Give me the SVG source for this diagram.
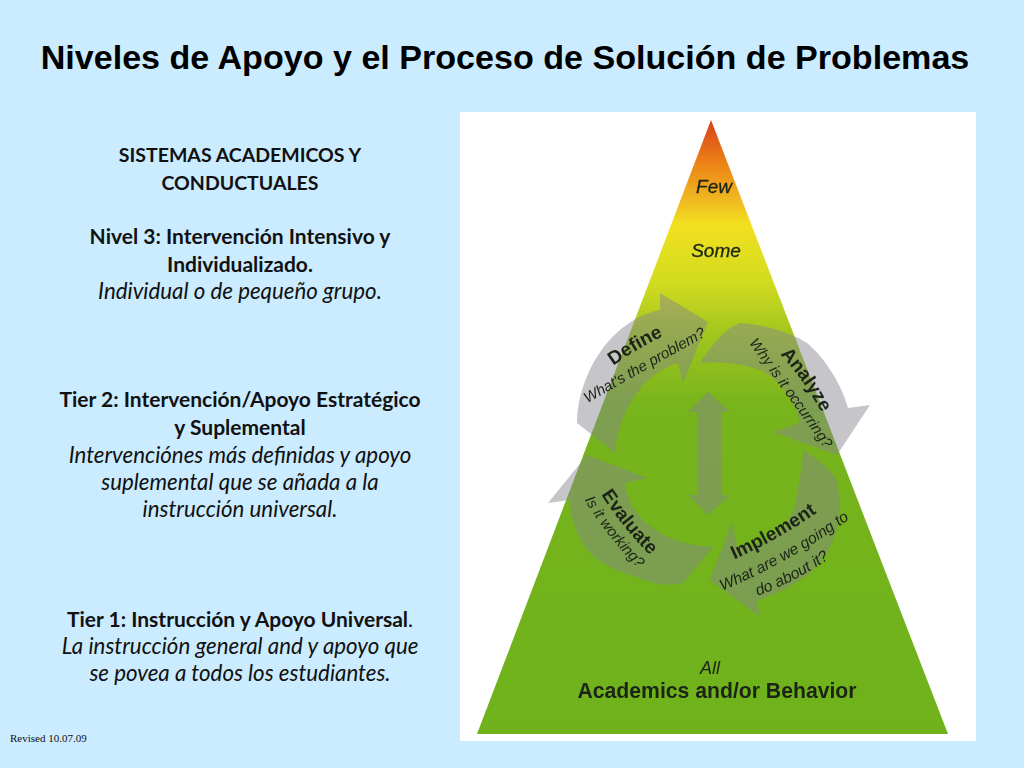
<svg xmlns="http://www.w3.org/2000/svg" width="1024" height="768" viewBox="0 0 1024 768">
<style>
.t{font-family:"Lato","Open Sans",sans-serif;font-size:21px;fill:#111;text-anchor:middle}
.c{font-size:19.5px}
.b{font-weight:bold}.i{font-style:italic;font-size:22.3px}
.a{font-family:"Liberation Sans",Arial,sans-serif;fill:#1c2418}
.m{text-anchor:middle}
.arrow{fill:#85858f;opacity:.47}
</style>
<defs>
<linearGradient id="py" gradientUnits="userSpaceOnUse" x1="0" y1="120" x2="0" y2="734">
<stop offset="0" stop-color="#d8401c"/><stop offset=".07" stop-color="#ec8216"/><stop offset=".13" stop-color="#f0b820"/><stop offset=".17" stop-color="#f2e020"/><stop offset=".26" stop-color="#d4dc20"/><stop offset=".34" stop-color="#a6c81e"/><stop offset=".46" stop-color="#78b41c"/><stop offset="1" stop-color="#6fb21c"/>
</linearGradient>
<filter id="soft"><feGaussianBlur stdDeviation=".6"/></filter>
<path id="p1" d="M613,366 Q636,349 664,336"/>
<path id="p2" d="M586,404 Q645,370 708,335"/>
<path id="p3" d="M781,355 Q804,380 821,412"/>
<path id="p4" d="M749,343 Q786,394 825,449"/>
<path id="p5" d="M733,560 Q778,540 818,512"/>
<path id="p6" d="M724,590 Q790,562 848,520"/>
<path id="p7" d="M757,596 Q795,582 830,558"/>
<path id="p8" d="M602,496 Q623,528 649,554"/>
<path id="p9" d="M584,499 Q607,537 639,569"/>
</defs>
<rect width="1024" height="768" fill="#cbebff"/>
<text id="title" x="505" y="69" text-anchor="middle" font-family="Liberation Sans, Arial, sans-serif" font-weight="bold" font-size="34.1" fill="#000">Niveles de Apoyo y el Proceso de Solución de Problemas</text>
<g id="left-text">
<text class="t b c" x="240" y="162">SISTEMAS ACADEMICOS Y</text>
<text class="t b c" x="240" y="190">CONDUCTUALES</text>
<text class="t b" x="240" y="244">Nivel 3: Intervención Intensivo y</text>
<text class="t b" x="240" y="272">Individualizado.</text>
<text class="t i" x="240" y="299">Individual o de pequeño grupo.</text>
<text class="t b" x="240" y="407">Tier 2: Intervención/Apoyo Estratégico</text>
<text class="t b" x="240" y="435">y Suplemental</text>
<text class="t i" x="240" y="463">Intervenciónes más definidas y apoyo</text>
<text class="t i" x="240" y="490">suplemental que se añada a la</text>
<text class="t i" x="240" y="517">instrucción universal.</text>
<text class="t" x="240" y="627"><tspan class="b">Tier 1: Instrucción y Apoyo Universal</tspan>.</text>
<text class="t i" x="240" y="654">La instrucción general and y apoyo que</text>
<text class="t i" x="240" y="681">se povea a todos los estudiantes.</text>
</g>
<text id="revised" x="10" y="742" font-family="Liberation Serif, Times New Roman, serif" font-size="11" fill="#111">Revised 10.07.09</text>
<rect id="panel" x="460" y="112" width="516" height="629" fill="#fff"/>
<g id="pyramid"><polygon points="711,120 948,734 477,734" fill="url(#py)"/></g>
<g id="arrows" filter="url(#soft)">
<path id="define" class="arrow" d="M577,423 C578,375 610,320 660,310 L660,293 L708,322 L683,383 L678,363 C645,372 618,410 615,453 Z"/>
<path id="analyze" class="arrow" d="M700,363 C712,345 725,328 740,323 C770,325 795,335 807,343 C825,358 842,385 848,408 L870,405 L837,455 L773,432 L800,423 C795,400 775,372 753,368 C735,362 715,362 700,363 Z"/>
<path id="implement" class="arrow" d="M803,450 C820,460 838,475 838,487 C842,515 838,530 833,540 C825,560 810,575 800,580 C785,590 770,597 757,600 L760,617 L710,580 L732,522 L737,547 C760,548 795,530 797,493 C800,475 803,465 803,450 Z"/>
<path id="evaluate" class="arrow" d="M587,455 L647,478 L625,483 C628,515 660,545 713,547 L683,583 C665,587 650,583 637,577 C610,570 588,555 583,543 C575,530 570,515 570,500 L548,503 Z"/>
<polygon id="updown" class="arrow" points="708,392 730,412 722,412 722,495 730,495 708,515 688,495 697,495 697,412 688,412"/>
</g>
<g id="labels">
<text class="a m" font-size="19" x="714" y="193" font-style="italic" stroke="#1c2418" stroke-width=".3">Few</text>
<text class="a m" font-size="19" x="716" y="257" font-style="italic" stroke="#1c2418" stroke-width=".3">Some</text>
<text class="a" font-size="19" font-weight="bold"><textPath href="#p1" startOffset="50%" text-anchor="middle">Define</textPath></text>
<text class="a" font-size="15" font-style="italic"><textPath href="#p2" startOffset="50%" text-anchor="middle">What's the problem?</textPath></text>
<text class="a" font-size="19" font-weight="bold"><textPath href="#p3" startOffset="50%" text-anchor="middle">Analyze</textPath></text>
<text class="a" font-size="15" font-style="italic"><textPath href="#p4" startOffset="50%" text-anchor="middle">Why is it occurring?</textPath></text>
<text class="a" font-size="19" font-weight="bold"><textPath href="#p5" startOffset="50%" text-anchor="middle">Implement</textPath></text>
<text class="a" font-size="15.5" font-style="italic"><textPath href="#p6" startOffset="50%" text-anchor="middle">What are we going to</textPath></text>
<text class="a" font-size="15.5" font-style="italic"><textPath href="#p7" startOffset="50%" text-anchor="middle">do about it?</textPath></text>
<text class="a" font-size="19" font-weight="bold"><textPath href="#p8" startOffset="50%" text-anchor="middle">Evaluate</textPath></text>
<text class="a" font-size="15" font-style="italic"><textPath href="#p9" startOffset="50%" text-anchor="middle">Is it working?</textPath></text>
<text class="a m" font-size="18" x="710" y="674" font-style="italic">All</text>
<text class="a m" font-size="21.2" x="717" y="698" font-weight="bold">Academics and/or Behavior</text>
</g>
</svg>
